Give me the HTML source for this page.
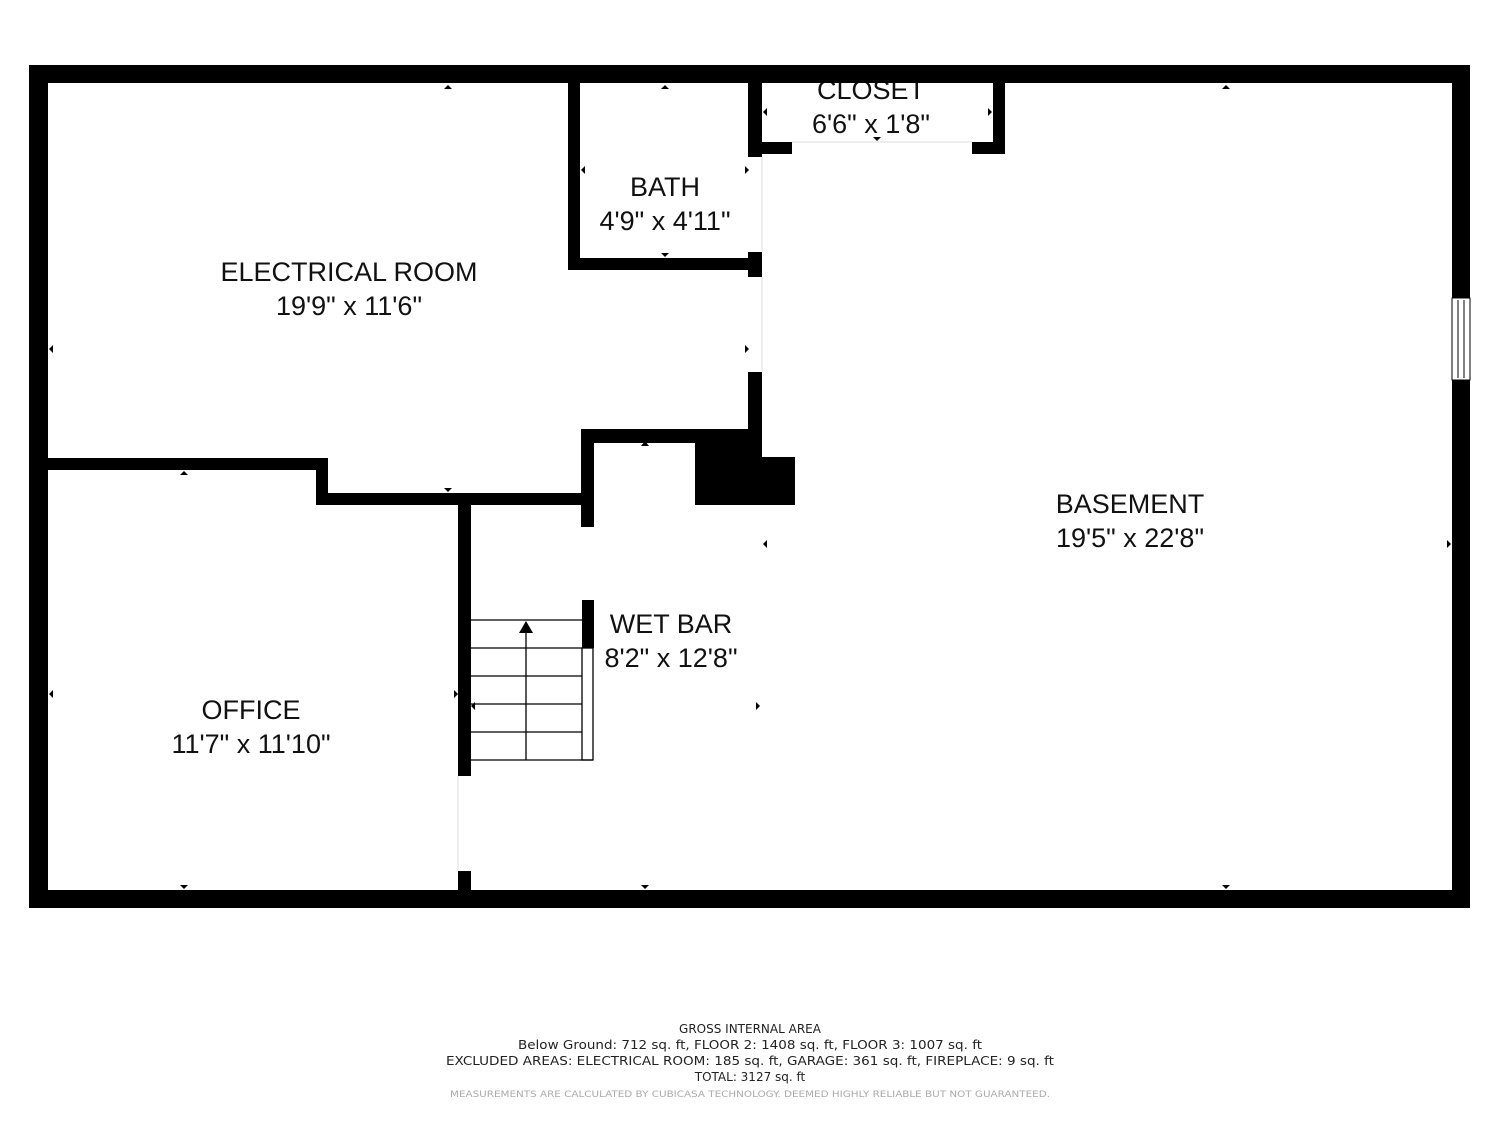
<!DOCTYPE html>
<html><head><meta charset="utf-8"><style>html,body{margin:0;padding:0;background:#fff}svg{display:block}</style></head>
<body>
<svg width="1500" height="1125" viewBox="0 0 1500 1125" xmlns="http://www.w3.org/2000/svg">
<rect width="1500" height="1125" fill="#fff"/>
<g fill="#000">
<rect x="29" y="65" width="1441" height="18"/>
<rect x="29" y="890" width="1441" height="18"/>
<rect x="29" y="65" width="19" height="843"/>
<rect x="1452" y="65" width="18" height="843"/>
<rect x="568" y="83" width="12" height="187"/>
<rect x="568" y="258" width="194" height="12"/>
<rect x="748" y="83" width="14" height="74"/>
<rect x="748" y="252" width="14" height="25"/>
<rect x="748" y="372" width="14" height="88"/>
<rect x="748" y="142" width="44" height="12"/>
<rect x="972" y="142" width="33" height="12"/>
<rect x="993" y="83" width="12" height="71"/>
<rect x="581" y="429" width="181" height="14"/>
<rect x="581" y="429" width="13" height="98"/>
<rect x="695" y="429" width="67" height="76"/>
<rect x="762" y="457" width="33" height="48"/>
<rect x="48" y="458" width="280" height="12"/>
<rect x="316" y="458" width="12" height="47"/>
<rect x="316" y="493" width="278" height="12"/>
<rect x="458" y="505" width="13" height="271"/>
<rect x="458" y="871" width="13" height="19"/>
<rect x="582" y="600" width="12" height="48"/>
</g>
<rect x="1452" y="298" width="18" height="82" fill="#fff" stroke="#000" stroke-width="1"/>
<line x1="1458" y1="300" x2="1458" y2="378" stroke="#000" stroke-width="1"/>
<line x1="1464" y1="300" x2="1464" y2="378" stroke="#000" stroke-width="1"/>
<g stroke="#ddd" stroke-width="1">
<line x1="762" y1="157" x2="762" y2="252"/>
<line x1="762" y1="277" x2="762" y2="372"/>
<line x1="792" y1="142" x2="972" y2="142"/>
<line x1="458" y1="776" x2="458" y2="871"/>
</g>
<g stroke="#000" stroke-width="1.3" fill="none">
<line x1="471" y1="620" x2="582" y2="620"/>
<line x1="471" y1="648" x2="582" y2="648"/>
<line x1="471" y1="676" x2="582" y2="676"/>
<line x1="471" y1="704" x2="582" y2="704"/>
<line x1="471" y1="732" x2="582" y2="732"/>
<line x1="471" y1="760" x2="593" y2="760"/>
<line x1="526" y1="630" x2="526" y2="760"/>
<rect x="582" y="648" width="11" height="112"/>
</g>
<polygon points="526,621 519,633 533,633" fill="#000"/>
<g fill="#000">
<polygon points="448,85 444,89 452,89"/>
<polygon points="665,85 661,89 669,89"/>
<polygon points="1226,85 1222,89 1230,89"/>
<polygon points="581,170 585,166 585,174"/>
<polygon points="749,170 745,166 745,174"/>
<polygon points="665,257 661,253 669,253"/>
<polygon points="49,349 53,345 53,353"/>
<polygon points="749,349 745,345 745,353"/>
<polygon points="184,471 180,475 188,475"/>
<polygon points="448,492 444,488 452,488"/>
<polygon points="645,441 641,446 649,446"/>
<polygon points="763,544 767,540 767,548"/>
<polygon points="1451,544 1447,540 1447,548"/>
<polygon points="49,694 53,690 53,698"/>
<polygon points="458,694 454,690 454,698"/>
<polygon points="471,706 475,702 475,710"/>
<polygon points="760,706 756,702 756,710"/>
<polygon points="184,889 180,885 188,885"/>
<polygon points="645,889 641,885 649,885"/>
<polygon points="1226,889 1222,885 1230,885"/>
<polygon points="763,112 767,108 767,116"/>
<polygon points="992,112 988,108 988,116"/>
<polygon points="877,141 873,137 881,137"/>
</g>
<g font-family="Liberation Sans, Arial, sans-serif" font-size="27" fill="#111" text-anchor="middle">
<text x="349" y="281">ELECTRICAL ROOM</text>
<text x="349" y="315">19'9" x 11'6"</text>
<text x="665" y="196">BATH</text>
<text x="665" y="230">4'9" x 4'11"</text>
<text x="871" y="99">CLOSET</text>
<text x="871" y="133">6'6" x 1'8"</text>
<text x="1130" y="513">BASEMENT</text>
<text x="1130" y="547">19'5" x 22'8"</text>
<text x="671" y="633">WET BAR</text>
<text x="671" y="667">8'2" x 12'8"</text>
<text x="251" y="719">OFFICE</text>
<text x="251" y="753">11'7" x 11'10"</text>
</g>
<rect x="764" y="65" width="226" height="18" fill="#000"/>
<g font-family="DejaVu Sans, Verdana, sans-serif" font-size="12" fill="#222" text-anchor="middle">
<text x="750" y="1033">GROSS INTERNAL AREA</text>
<text x="750" y="1049" textLength="464" lengthAdjust="spacingAndGlyphs">Below Ground: 712 sq. ft, FLOOR 2: 1408 sq. ft, FLOOR 3: 1007 sq. ft</text>
<text x="750" y="1065" textLength="608" lengthAdjust="spacingAndGlyphs">EXCLUDED AREAS: ELECTRICAL ROOM: 185 sq. ft, GARAGE: 361 sq. ft, FIREPLACE: 9 sq. ft</text>
<text x="750" y="1081">TOTAL: 3127 sq. ft</text>
<text x="750" y="1097" font-size="9" fill="#aaa" textLength="600" lengthAdjust="spacingAndGlyphs">MEASUREMENTS ARE CALCULATED BY CUBICASA TECHNOLOGY. DEEMED HIGHLY RELIABLE BUT NOT GUARANTEED.</text>
</g>
</svg>
</body></html>
